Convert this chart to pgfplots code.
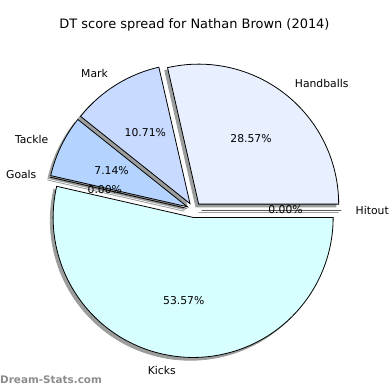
\documentclass[border=0pt]{standalone}
\usepackage{pgfplots}
\pgfplotsset{compat=1.18}
\usepackage{pgfplotstable}
\usepackage{fontspec}
\setmainfont{DejaVu Sans}
\definecolor{cHand}{HTML}{E8F0FF}
\definecolor{cMark}{HTML}{C8DAFF}
\definecolor{cTack}{HTML}{B4D4FF}
\definecolor{cGoal}{HTML}{B0E0FF}
\definecolor{cKick}{HTML}{D8FFFF}
\definecolor{cHit}{HTML}{E0E0FF}
\definecolor{shc}{HTML}{9C9E9E}
\definecolor{wm}{HTML}{8C8C8C}
\newcommand\lbl{\fontsize{10.8bp}{13bp}\selectfont}
\pgfkeys{/pgf/number format/.cd, fixed, zerofill, precision=2, assume math mode=true}

\pgfplotstableread[col sep=comma]{
label,value,color
Handballs,8,cHand
Mark,3,cMark
Tackle,2,cTack
Goals,0,cGoal
Kicks,15,cKick
Hitout,0,cHit
}\piedata

\begin{document}
\begin{tikzpicture}
\def\cx{194}\def\cy{180}\def\R{140}\def\dexp{7.5}
\def\total{0}
\pgfplotsforeachungrouped \i in {0,...,5}{%
  \pgfplotstablegetelem{\i}{value}\of\piedata
  \pgfmathsetmacro\tmp{\total+\pgfplotsretval}\xdef\total{\tmp}}
\def\cum{0}
\pgfplotsforeachungrouped \i in {0,...,5}{%
  \pgfplotstablegetelem{\i}{value}\of\piedata \edef\v{\pgfplotsretval}%
  \pgfplotstablegetelem{\i}{label}\of\piedata \expandafter\xdef\csname lab\i\endcsname{\pgfplotsretval}%
  \pgfplotstablegetelem{\i}{color}\of\piedata \expandafter\xdef\csname col\i\endcsname{\pgfplotsretval}%
  \pgfmathsetmacro\a{\cum}%
  \pgfmathsetmacro\b{\cum+360*\v/\total}%
  \pgfmathsetmacro\m{(\a+\b)/2}%
  \pgfmathsetmacro\ox{\cx+\dexp*cos(\m)}%
  \pgfmathsetmacro\oy{\cy+\dexp*sin(\m)}%
  \pgfmathsetmacro\sx{\ox-2.8}%
  \pgfmathsetmacro\sy{\oy-2.8}%
  \pgfmathsetmacro\lx{\ox+1.1*\R*cos(\m)}%
  \pgfmathsetmacro\ly{\oy+1.1*\R*sin(\m)}%
  \pgfmathsetmacro\px{\ox+0.6*\R*cos(\m)}%
  \pgfmathsetmacro\py{\oy+0.6*\R*sin(\m)}%
  \pgfmathsetmacro\p{100*\v/\total}%
  \pgfmathparse{cos(\m)>0}%
  \ifdim\pgfmathresult pt>0.5pt \expandafter\xdef\csname anc\i\endcsname{west}\else\expandafter\xdef\csname anc\i\endcsname{east}\fi
  \expandafter\xdef\csname a\i\endcsname{\a}%
  \expandafter\xdef\csname b\i\endcsname{\b}%
  \expandafter\xdef\csname ox\i\endcsname{\ox}%
  \expandafter\xdef\csname oy\i\endcsname{\oy}%
  \expandafter\xdef\csname sx\i\endcsname{\sx}%
  \expandafter\xdef\csname sy\i\endcsname{\sy}%
  \expandafter\xdef\csname lx\i\endcsname{\lx}%
  \expandafter\xdef\csname ly\i\endcsname{\ly}%
  \expandafter\xdef\csname px\i\endcsname{\px}%
  \expandafter\xdef\csname py\i\endcsname{\py}%
  \expandafter\xdef\csname p\i\endcsname{\p}%
  \xdef\cum{\b}%
}
\begin{axis}[scale only axis, width=390bp, height=390bp,
  xmin=0, xmax=390, ymin=0, ymax=390, hide axis, clip=false]
\path (axis cs:0,0) rectangle (axis cs:390,390);
% shadows
\pgfplotsinvokeforeach{0,...,5}{%
  \edef\temp{\noexpand\filldraw[draw=shc, fill=shc, line width=0.8bp]
    (axis cs:\csname sx#1\endcsname,\csname sy#1\endcsname) -- ++(\csname a#1\endcsname:\R bp)
    arc[start angle=\csname a#1\endcsname, end angle=\csname b#1\endcsname, radius=\R bp] -- cycle;}\temp
}
% wedges
\pgfplotsinvokeforeach{0,...,5}{%
  \edef\temp{\noexpand\filldraw[draw=black, fill=\csname col#1\endcsname, line width=0.8bp]
    (axis cs:\csname ox#1\endcsname,\csname oy#1\endcsname) -- ++(\csname a#1\endcsname:\R bp)
    arc[start angle=\csname a#1\endcsname, end angle=\csname b#1\endcsname, radius=\R bp] -- cycle;}\temp
}
% labels
\pgfplotsinvokeforeach{0,...,5}{%
  \edef\temp{\noexpand\node[anchor=\csname anc#1\endcsname, inner sep=0pt, font=\noexpand\lbl]
    at (axis cs:\csname lx#1\endcsname,\csname ly#1\endcsname) {\csname lab#1\endcsname};}\temp
  \edef\temp{\noexpand\node[inner sep=0pt, font=\noexpand\lbl]
    at (axis cs:\csname px#1\endcsname,\csname py#1\endcsname) {\noexpand\pgfmathprintnumber{\csname p#1\endcsname}\%};}\temp
}
\node[inner sep=0pt, font=\fontsize{12.95bp}{15bp}\selectfont] at (axis cs:194.5,365) {DT score spread for Nathan Brown (2014)};
\node[anchor=west, inner sep=0pt, font=\bfseries\fontsize{10.4bp}{12bp}\selectfont, text=wm] at (axis cs:0,10) {Dream-Stats.com};
\end{axis}
\end{tikzpicture}
\end{document}
